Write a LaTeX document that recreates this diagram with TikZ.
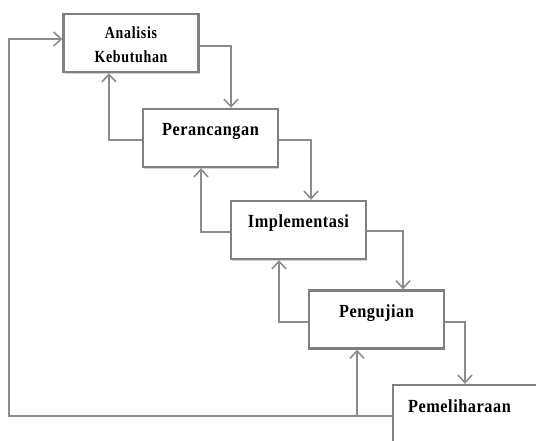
\documentclass[tikz,border=0pt]{standalone}
\usepackage{fontspec}
\setmainfont{Liberation Serif}
\newfontfamily\hurufsempit[FakeStretch=0.82, LetterSpace=4]{Liberation Serif}
\newfontfamily\hurufjudul[FakeStretch=0.88, LetterSpace=3]{Liberation Serif}
\usetikzlibrary{arrows.meta,shadows}

\begin{document}
\begin{tikzpicture}[x=1pt,y=-1pt]
		\tikzstyle{tahap}=[draw=black!50, line width=2.4pt, fill=white, minimum width=135pt, minimum height=58pt, inner sep=0pt, font=\hurufjudul\bfseries\fontsize{18.5}{20}\selectfont, drop shadow={shadow xshift=1.2pt, shadow yshift=-1.8pt, opacity=0.35}]
		\tikzstyle{satu}=[text height=12pt, text depth=16pt]
		\tikzstyle{alur}=[draw=black!45, line width=1.6pt, -{Straight Barb[length=7.5pt, width=14pt, line width=1.6pt]}]
		\useasboundingbox (0,0) rectangle (536,441);
		\clip (0,0) rectangle (536,441);
		\node [tahap, align=center, text height=42pt, text depth=2pt, font=\hurufsempit\bfseries\fontsize{17}{24}\selectfont] (analisis) at (131,43) {Analisis\\Kebutuhan};
		\node [tahap, satu] (rancang) at (210.5,138) {Perancangan};
		\node [tahap, satu] (implementasi) at (298.5,230) {Implementasi};
		\node [tahap, satu] (uji) at (376.5,319.5) {Pengujian};
		\node [tahap, satu, text width=122pt, inner xsep=15pt, align=left] (pelihara) at (469,414) {Pemeliharaan};
		\draw [alur] ([yshift=-3pt]analisis.east) -| ([xshift=20.5pt]rancang.north);
		\draw [alur] ([yshift=-2pt]rancang.west) -| ([xshift=-22pt]analisis.south);
		\draw [alur] ([yshift=-2pt]rancang.east) -| ([xshift=12.5pt]implementasi.north);
		\draw [alur] ([yshift=-2pt]implementasi.west) -| ([xshift=-9.5pt]rancang.south);
		\draw [alur] ([yshift=-1pt]implementasi.east) -| ([xshift=26.5pt]uji.north);
		\draw [alur] ([yshift=-2.5pt]uji.west) -| ([xshift=-19.5pt]implementasi.south);
		\draw [alur] ([yshift=-2.5pt]uji.east) -| ([xshift=-4pt]pelihara.north);
		\coordinate (balik) at (9,39);
		\coordinate (cabang) at (357,416);
		\draw [alur] ([yshift=-2pt]pelihara.west) -| (balik) -- ([yshift=4pt]analisis.west);
		\draw [alur] (cabang) -- (cabang |- uji.south);
\end{tikzpicture}
\end{document}
